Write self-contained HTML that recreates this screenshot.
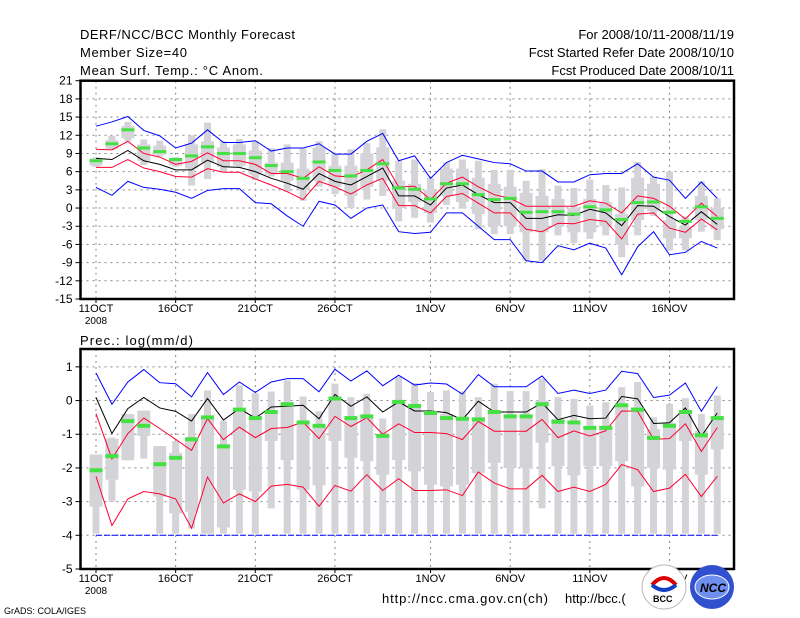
<!DOCTYPE html>
<html><head><meta charset="utf-8"><style>
body{margin:0;background:#fff}
svg{display:block}
text{font-family:"Liberation Sans",sans-serif;fill:#000}
</style></head><body>
<svg id="c" width="800" height="618" viewBox="0 0 800 618" xmlns="http://www.w3.org/2000/svg">
<g>
<text x="80" y="39" font-size="13" textLength="215">DERF/NCC/BCC Monthly Forecast</text>
<text x="80" y="57" font-size="13" textLength="107">Member Size=40</text>
<text x="80" y="75" font-size="13" textLength="183">Mean Surf. Temp.: °C Anom.</text>
<text x="734" y="39" font-size="13" text-anchor="end">For 2008/10/11-2008/11/19</text>
<text x="734" y="57" font-size="13" text-anchor="end">Fcst Started Refer Date 2008/10/10</text>
<text x="734" y="75" font-size="13" text-anchor="end">Fcst Produced Date 2008/10/11</text>
<text x="80" y="345" font-size="13" textLength="113">Prec.: log(mm/d)</text>
<text x="382" y="603" font-size="13" textLength="166">http://ncc.cma.gov.cn(ch)</text>
<text x="565" y="603" font-size="13">http://bcc.(</text>
<text x="4" y="614" font-size="9">GrADS: COLA/IGES</text>
</g>
<g id="top"></g><g id="bot"></g>
<g>
<circle cx="664" cy="587" r="22" fill="#fff" stroke="#bbb"/>
<path d="M652 585 q12 -14 24 0" stroke="#d00" stroke-width="4" fill="none"/>
<path d="M652 585 q12 10 24 0" stroke="#1040c0" stroke-width="4" fill="none"/>
<text x="653" y="602" font-size="9" font-weight="bold" fill="#1040c0">BCC</text>
<circle cx="712" cy="587" r="22" fill="#3050d0"/>
<ellipse cx="712" cy="587" rx="17" ry="12" fill="#6f8ff0" stroke="#fff"/>
<text x="700" y="592" font-size="12" font-style="italic" font-weight="bold" fill="#fff">NCC</text>
</g>
</svg>
<script>
const days=[...Array(40).keys()];
const dateTicks=[0,5,10,15,21,26,31,36];
const dateLabels=["11OCT","16OCT","21OCT","26OCT","1NOV","6NOV","11NOV","16NOV"];
const tTicks=[21,18,15,12,9,6,3,0,-3,-6,-9,-12,-15];
const pTicks=[1,0,-1,-2,-3,-4,-5];
const tMean=[8.2,8.0,9.5,7.8,7.2,6.3,6.3,7.9,6.8,6.7,6.0,4.9,4.1,3.1,5.7,4.4,3.8,5.2,6.6,2.0,2.0,0.5,3.3,3.8,2.2,0.9,0.9,-1.7,-1.7,-1.1,-1.2,-0.2,-0.8,-2.9,0.4,0.3,-1.4,-2.8,-0.6,-2.7];
const tRedHi=[9.7,9.6,11.0,9.0,8.4,7.2,7.7,9.1,7.8,7.8,7.2,5.7,5.7,4.9,6.8,5.3,5.1,6.3,8.0,3.5,3.6,1.4,4.1,5.1,3.5,2.2,1.6,0.3,0.3,0.3,0.3,1.2,0.8,-0.8,2.0,1.6,0.3,-1.8,0.8,-1.4];
const tRedLo=[6.7,6.7,8.0,6.6,6.0,5.2,5.1,6.5,5.9,5.9,4.8,3.8,2.7,1.4,4.4,3.5,2.3,3.8,4.9,0.4,0.4,-0.8,1.9,2.4,0.8,-0.8,-0.8,-3.5,-3.9,-2.5,-2.6,-1.9,-2.2,-5.1,-1.0,-0.8,-3.3,-4.0,-1.8,-3.6];
const tBlueHi=[13.5,14.2,15.1,12.8,11.9,9.9,10.7,12.9,10.8,10.8,11.1,9.4,9.9,9.9,10.6,8.9,8.9,11.0,12.3,7.8,8.6,4.9,7.5,8.7,8.1,7.5,7.3,6.1,6.1,4.3,4.3,5.5,5.7,5.7,7.3,5.1,4.6,1.6,4.3,1.6];
const tBlueLo=[3.4,2.1,4.4,3.4,3.1,2.6,1.6,2.9,3.2,3.2,0.9,0.7,-1.3,-3.0,1.1,0.5,-1.7,0,0.5,-3.9,-4.2,-4.0,-0.8,-0.8,-3.0,-5.2,-5.2,-8.7,-9.0,-6.2,-6.9,-5.8,-6.6,-11.0,-6.4,-3.9,-7.7,-7.3,-5.5,-6.6];
const tGreen=[7.8,10.6,12.9,9.9,9.3,8.0,8.6,10.1,9.0,9.0,8.3,7.0,6.0,4.9,7.6,6.2,5.3,6.2,7.3,3.3,3.1,1.5,4.0,4.0,2.2,1.4,1.6,-0.7,-0.6,-0.6,-1.0,0.2,-0.3,-1.9,0.9,1.0,-0.7,-2.2,0.2,-1.7];
const tMin=[6.8,9.6,11.0,7.1,8.5,6.8,3.7,4.8,6.0,6.8,4.6,5.2,2.7,1.2,3.5,2.3,0,1.4,2.0,-2.2,-1.6,-2.4,0.5,-0.1,-3.5,-4.3,-4.3,-8.7,-8.7,-4.5,-5.8,-5.1,-4.5,-8.1,-4.5,-1.3,-7,-7,-3.9,-5.3];
const tQ1=[7.0,9.8,11.5,7.8,8.8,7.0,6.5,7.5,6.8,7.0,5.5,5.5,4.5,3.0,4.5,3.5,2,3.5,4.5,0,1,-0.8,2,1,-1.0,-3,-3,-4,-4,-3,-4,-4,-3,-6,-2,-0.5,-5,-5,-2,-3.5];
const tQ3=[8.2,11.2,13.5,10.5,10.3,8.2,10.5,11,10,10.5,9.5,7.5,7.5,6.5,10,7,7,9,10,4.5,4,3,6.5,6.5,5,4,3.5,2.5,2,1.5,0,1.5,1,-1,5,4,-2,-3,2,0];
const tMax=[8.4,11.9,14.2,11.3,11.1,8.4,12,14.1,11,11.4,11,9.9,10.5,9.8,11,9,9.7,10.7,13,7.8,8,5,7.5,8,7.8,6.3,6.3,4.5,6.4,3.7,3.3,4.7,3.8,3.4,7.6,5.2,6,-1.4,4.4,1.6];
const pMean=[0.09,-0.98,-0.24,0.09,-0.22,-0.32,-0.61,0.06,-0.58,-0.24,-0.52,-0.19,-0.17,-0.14,-0.54,0.18,-0.17,0.11,-0.34,-0.04,-0.31,-0.31,-0.36,-0.57,-0.02,-0.34,-0.34,-0.34,-0.07,-0.57,-0.44,-0.54,-0.52,0.12,0.05,-0.68,-0.66,-0.22,-1.06,-0.37];
const pBlueHi=[0.82,-0.11,0.55,0.92,0.53,0.5,0.11,0.83,0.18,0.55,0.24,0.55,0.65,0.65,0.26,0.93,0.58,0.88,0.44,0.75,0.46,0.52,0.49,0.19,0.77,0.41,0.41,0.41,0.73,0.21,0.31,0.21,0.31,0.87,0.8,0.09,0.16,0.52,-0.32,0.41];
const pRedHi=[-0.39,-1.73,-0.98,-0.52,-0.83,-1.15,-1.48,-0.54,-1.16,-0.79,-1.1,-0.83,-0.8,-0.64,-1.13,-0.47,-0.77,-0.51,-1.0,-0.69,-0.95,-0.95,-0.98,-1.16,-0.62,-0.91,-0.91,-0.91,-0.56,-1.1,-0.9,-1.05,-0.9,-0.31,-0.32,-1.15,-1.13,-0.69,-1.51,-0.8];
const pRedLo=[-2.25,-3.71,-2.92,-2.7,-2.77,-2.92,-3.79,-2.27,-3.04,-2.77,-3.0,-2.54,-2.49,-2.57,-3.14,-2.52,-2.69,-2.2,-2.67,-2.32,-2.67,-2.67,-2.65,-2.82,-2.12,-2.45,-2.62,-2.62,-2.22,-2.7,-2.57,-2.7,-2.49,-1.9,-2.05,-2.7,-2.6,-2.19,-2.85,-2.25];
const pBlueLo=days.map(()=>-4);
const pGreen=[-2.07,-1.65,-0.61,-0.75,-1.89,-1.7,-1.15,-0.5,-1.36,-0.27,-0.52,-0.34,-0.11,-0.65,-0.75,0.06,-0.52,-0.47,-1.05,-0.04,-0.16,-0.37,-0.52,-0.54,-0.56,-0.34,-0.47,-0.47,-0.11,-0.63,-0.65,-0.81,-0.81,-0.14,-0.27,-1.11,-0.75,-0.34,-1.03,-0.52];
const pMin=[-3.95,-3.0,-1.77,-1.72,-3.95,-3.95,-3.8,-3.95,-3.95,-3.95,-3.95,-3.2,-3.95,-3.95,-3.95,-3.95,-3.95,-3.95,-3.95,-3.95,-3.95,-3.95,-3.95,-3.95,-3.95,-3.95,-3.95,-3.95,-3.2,-3.95,-3.95,-3.95,-3.95,-3.95,-3.95,-3.95,-3.95,-3.95,-3.95,-3.95];
const pQ1=[-3.15,-2.35,-1.77,-1.05,-2.85,-3.35,-3.3,-3.95,-3.77,-2.65,-2.7,-1.2,-1.77,-2.65,-2.52,-1.2,-1.7,-1.8,-2.2,-1.77,-2.1,-2.5,-2.55,-2.5,-2.15,-1.85,-2.0,-2.0,-1.25,-1.95,-2.22,-1.95,-1.95,-1.8,-2.55,-2.0,-2.05,-1.2,-2.2,-1.45];
const pQ3=[-1.6,-1.13,-0.4,-0.3,-1.35,-1.55,-1.15,-0.5,-1.4,-0.3,-0.5,-0.4,-0.05,-0.6,-0.75,0.05,-0.5,-0.5,-1.0,-0.05,-0.1,-0.3,-0.4,-0.5,-0.5,-0.35,-0.42,-0.42,0.0,-0.55,-0.6,-0.77,-0.75,-0.1,-0.2,-0.85,-0.67,-0.3,-0.9,-0.5];
const pMax=[-1.6,-1.1,-0.4,-0.3,-1.35,-1.2,-0.4,0.3,-0.6,0.45,0.22,0.27,0.6,0.12,-0.32,0.5,0.1,0.2,-0.53,0.7,0.52,0.25,0.3,0.27,0.1,0.5,0.28,0.28,0.65,0.1,0.05,-0.15,-0.05,0.4,0.55,-0.5,-0.1,0.07,-0.4,0.15];

const NS='http://www.w3.org/2000/svg';
const X0=80.5,X1=734,xDay0=96,dx=15.93;
const xs=d=>xDay0+d*dx;
function mk(parent,tag,attrs){const e=document.createElementNS(NS,tag);for(const k in attrs)e.setAttribute(k,attrs[k]);parent.appendChild(e);return e;}
function panel(gid,top,bot,vTop,vBot,ticks,tickFmt,D,gW){
  const g=document.getElementById(gid);
  const ys=v=>top+(vTop-v)/(vTop-vBot)*(bot-top);
  // grid
  ticks.forEach(t=>{const y=ys(t);
    if(y>top+1&&y<bot-1){const l=mk(g,'line',{x1:X0,x2:X1,y1:y,y2:y,stroke:'#888','stroke-dasharray':'2,4','stroke-width':1});
    
    }
    const tk=mk(g,'line',{x1:X0-5,x2:X0,y1:y,y2:y,stroke:'#000'});
    
    
    const tx=mk(g,'text',{x:X0-8,y:y+4,'font-size':12,'text-anchor':'end'});tx.textContent=tickFmt(t);
    
    
  });
  dateTicks.forEach((d,i)=>{const x=xs(d);
    const l=mk(g,'line',{x1:x,x2:x,y1:top,y2:bot,stroke:'#888','stroke-dasharray':'2,4'});
    
    
    const tk=mk(g,'line',{x1:x,x2:x,y1:bot,y2:bot+4,stroke:'#000'});
    
    
    const tx=mk(g,'text',{x:x,y:bot+13,'font-size':11,'text-anchor':'middle'});tx.textContent=dateLabels[i];
    
    
  });
  const yr=mk(g,'text',{x:xs(0),y:bot+25,'font-size':10,'text-anchor':'middle'});yr.textContent='2008';
  
  
  // boxes
  days.forEach(d=>{const x=xs(d);
    const w=mk(g,'rect',{x:x-3.5,width:7,y:ys(D.max[d]),height:Math.max(1,ys(D.min[d])-ys(D.max[d])),fill:'#d4d4d8'});
    
    
    const b=mk(g,'rect',{x:x-6.5,width:13,y:ys(D.q3[d]),height:Math.max(1,ys(D.q1[d])-ys(D.q3[d])),fill:'#d4d4d8'});
    
    
  });
  const line=(arr,col,nm,dash)=>{const p=mk(g,'polyline',{points:arr.map((v,d)=>xs(d)+','+ys(v)).join(' '),fill:'none',stroke:col,'stroke-width':1});
    if(dash)p.setAttribute('stroke-dasharray',dash);
    
    };
  line(D.blueHi,'#0000ff','blue-upper-line');line(D.blueLo,'#0000ff','blue-lower-line',D.blueDash);
  line(D.redHi,'#ff0033','red-upper-line');line(D.redLo,'#ff0033','red-lower-line');
  line(D.mean,'#000','ensemble-mean-line');
  days.forEach(d=>{const r=mk(g,'rect',{x:xs(d)-6.5,width:13,y:ys(D.green[d])-gW/2,height:gW,fill:'#44e044'});
    
    });
  const f=mk(g,'rect',{x:X0,y:top,width:X1-X0,height:bot-top,fill:'none',stroke:'#000','stroke-width':2.5});
  
  
}
panel('top',80.7,299,21,-15,tTicks,t=>String(t),{mean:tMean,redHi:tRedHi,redLo:tRedLo,blueHi:tBlueHi,blueLo:tBlueLo,green:tGreen,min:tMin,q1:tQ1,q3:tQ3,max:tMax},3);
panel('bot',349,569,1.53,-5,pTicks,t=>String(t),{mean:pMean,redHi:pRedHi,redLo:pRedLo,blueHi:pBlueHi,blueLo:pBlueLo,blueDash:'6,2',green:pGreen,min:pMin,q1:pQ1,q3:pQ3,max:pMax},4);
</script>
</body></html>
